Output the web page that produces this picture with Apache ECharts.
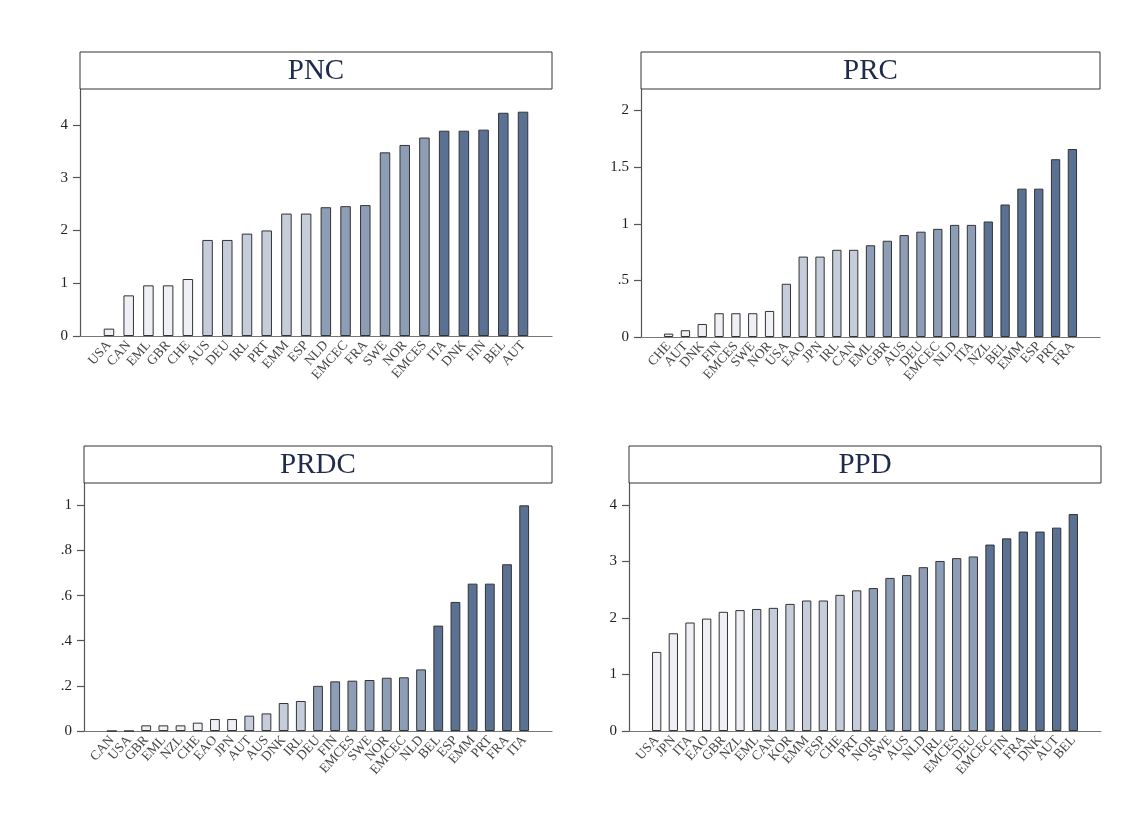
<!DOCTYPE html>
<html><head><meta charset="utf-8">
<script src="https://cdn.jsdelivr.net/npm/echarts@6/dist/echarts.min.js"></script>
<style>html,body{margin:0;padding:0;background:#fff}#c{width:1130px;height:832px}</style>
</head><body><div id="c"></div>
<script>
// ---- data ----
const pncCats = ['USA','CAN','EML','GBR','CHE','AUS','DEU','IRL','PRT','EMM','ESP','NLD','EMCEC','FRA','SWE','NOR','EMCES','ITA','DNK','FIN','BEL','AUT'];
const pncVals = [0.14,0.77,0.96,0.96,1.08,1.82,1.82,1.94,2.00,2.32,2.32,2.44,2.46,2.48,3.48,3.62,3.76,3.89,3.89,3.91,4.23,4.25];
const pncGroup = [1,1,1,1,1,2,2,2,2,2,2,3,3,3,3,3,3,4,4,4,4,4];
const pncTicks = [0,1,2,3,4];

const prcCats = ['CHE','AUT','DNK','FIN','EMCES','SWE','NOR','USA','EAO','JPN','IRL','CAN','EML','GBR','AUS','DEU','EMCEC','NLD','ITA','NZL','BEL','EMM','ESP','PRT','FRA'];
const prcVals = [0.03,0.06,0.115,0.21,0.21,0.21,0.23,0.47,0.71,0.71,0.77,0.77,0.81,0.85,0.90,0.93,0.955,0.99,0.99,1.02,1.17,1.31,1.31,1.57,1.66];
const prcGroup = [1,1,1,1,1,1,1,2,2,2,2,2,3,3,3,3,3,3,3,4,4,4,4,4,4];
const prcTicks = [0,0.5,1,1.5,2];

const prdcCats = ['CAN','USA','GBR','EML','NZL','CHE','EAO','JPN','AUT','AUS','DNK','IRL','DEU','FIN','EMCES','SWE','NOR','EMCEC','NLD','BEL','ESP','EMM','PRT','FRA','ITA'];
const prdcVals = [0,0,0.025,0.025,0.025,0.037,0.053,0.053,0.068,0.078,0.124,0.133,0.200,0.220,0.223,0.226,0.236,0.238,0.273,0.467,0.572,0.653,0.653,0.739,1.0];
const prdcGroup = [1,1,1,1,1,1,1,1,2,2,2,2,3,3,3,3,3,3,3,4,4,4,4,4,4];
const prdcTicks = [0,0.2,0.4,0.6,0.8,1];

const ppdCats = ['USA','JPN','ITA','EAO','GBR','NZL','EML','CAN','KOR','EMM','ESP','CHE','PRT','NOR','SWE','AUS','NLD','IRL','EMCES','DEU','EMCEC','FIN','FRA','DNK','AUT','BEL'];
const ppdVals = [1.40,1.73,1.92,1.99,2.11,2.14,2.16,2.18,2.25,2.31,2.31,2.41,2.49,2.53,2.71,2.76,2.90,3.01,3.06,3.09,3.30,3.41,3.53,3.53,3.60,3.84];
const ppdGroup = [1,1,1,1,1,1,2,2,2,2,2,2,2,3,3,3,3,3,3,3,4,4,4,4,4,4];
const ppdTicks = [0,1,2,3,4];

const titles = ['PNC','PRC','PRDC','PPD'];

// ---- layout / style ----
const palette = ['#eef0f5','#c5ccda','#8e9db6','#5a7194'];
const panels = [
  {cats:pncCats, vals:pncVals, grp:pncGroup, ticks:pncTicks, ymax:4.68, pad:1.47, left:80, top:89, width:472, height:247, box:[80,52,472,37], bw:10.5},
  {cats:prcCats, vals:prcVals, grp:prcGroup, ticks:prcTicks, ymax:2.19, pad:1.64, left:641, top:89, width:459, height:248, box:[641,52,459,37], bw:9.3},
  {cats:prdcCats, vals:prdcVals, grp:prdcGroup, ticks:prdcTicks, ymax:1.099, pad:1.62, left:84, top:483, width:468, height:248, box:[84,446,468,37], bw:9.8},
  {cats:ppdCats, vals:ppdVals, grp:ppdGroup, ticks:ppdTicks, ymax:4.39, pad:1.66, left:629, top:483, width:472, height:248, box:[629,446,472,37], bw:9.3}
];
const serif = '"Liberation Serif","DejaVu Serif",serif';
function fmtY(v){ let s = String(+v.toFixed(2)); if (s.startsWith('0.')) s = s.slice(1); return s; }

const grid=[], xAxis=[], yAxis=[], series=[], graphic=[];
panels.forEach((p,k)=>{
  grid.push({left:p.left, top:p.top, width:p.width, height:p.height, containLabel:false});
  const n = p.cats.length;
  const xmin = -p.pad, xmax = n-1+p.pad;
  // sentinel (empty) labels at both ends so that no real label is dropped by min/max label logic
  const labelVals = [xmin].concat(p.cats.map((_,i)=>i), [xmax]);
  xAxis.push({type:'value', gridIndex:k, min:xmin, max:xmax,
    axisLine:{show:true, onZero:false, lineStyle:{color:'#777', width:1.2}},
    axisTick:{show:false}, splitLine:{show:false},
    axisLabel:{customValues:labelVals, showMinLabel:false, showMaxLabel:false, hideOverlap:false,
      rotate:48, margin:7, fontFamily:serif, fontSize:13.5, color:'#454545',
      formatter:v=>{ const i=Math.round(v); return (Math.abs(v-i)<1e-6 && i>=0 && i<n) ? p.cats[i] : ''; }}});
  yAxis.push({type:'value', gridIndex:k, min:0, max:p.ymax,
    axisLine:{show:true, onZero:false, lineStyle:{color:'#555', width:1.2}},
    axisTick:{show:true, customValues:p.ticks, length:7, lineStyle:{color:'#555', width:1.2}},
    splitLine:{show:false},
    axisLabel:{customValues:p.ticks, showMinLabel:true, showMaxLabel:true, margin:12, fontFamily:serif, fontSize:15, color:'#222', formatter:fmtY}});
  series.push({type:'bar', xAxisIndex:k, yAxisIndex:k, barWidth:p.bw,
    itemStyle:{borderColor:'#333', borderWidth:1},
    data:p.vals.map((v,i)=>({value:[i,v], itemStyle:{color:palette[p.grp[i]-1]}}))});
  const b=p.box;
  graphic.push({type:'rect', shape:{x:b[0], y:b[1], width:b[2], height:b[3]}, style:{fill:'#fff', stroke:'#333', lineWidth:1}, z:10});
  graphic.push({type:'text', x:b[0]+b[2]/2, y:b[1]+b[3]/2+1, style:{text:titles[k], textAlign:'center', textVerticalAlign:'middle', font:'29px '+serif, fill:'#1e2b4c'}, z:11});
});

const chart = echarts.init(document.getElementById('c'), null, {renderer:'canvas'});
chart.setOption({backgroundColor:'#fff', animation:false, grid, xAxis, yAxis, series, graphic});
</script></body></html>
